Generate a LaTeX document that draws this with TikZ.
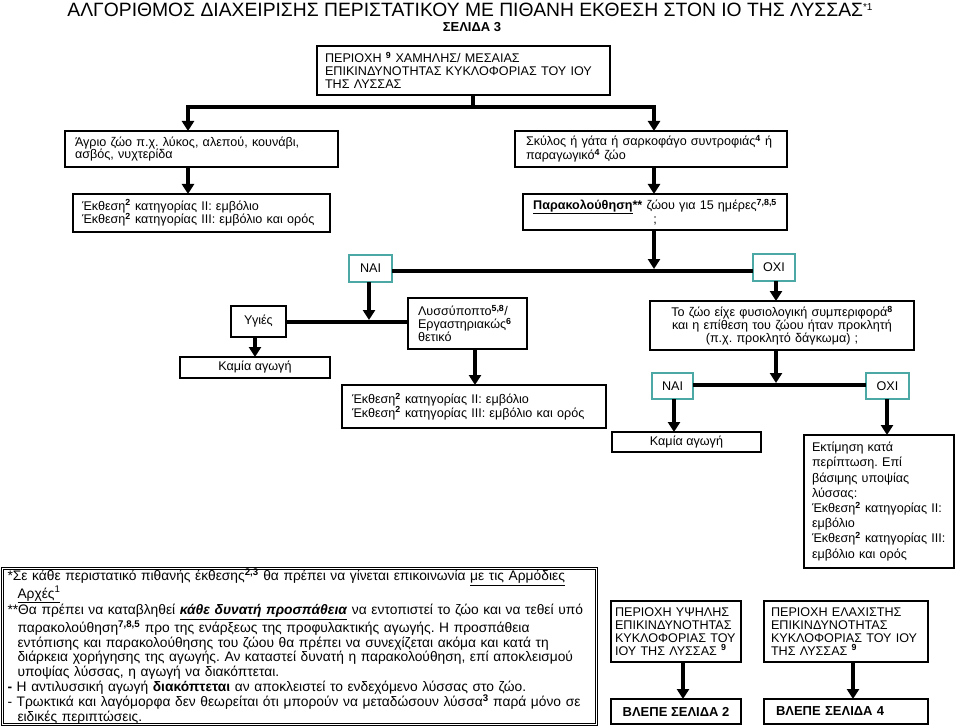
\documentclass[tikz,border=0pt]{standalone}
\usepackage{fontspec}
\setmainfont{Liberation Sans}
\usetikzlibrary{arrows.meta}
\definecolor{answerteal}{RGB}{75,168,164}
\newcommand{\sps}[1]{\textsuperscript{\textbf{#1}}}
\frenchspacing
\setlength{\lineskiplimit}{-20pt}
\setlength{\lineskip}{0pt}
\begin{document}
\begin{tikzpicture}[x=1pt, y=-1pt,
    box/.style={draw, line width=1.3pt, outer sep=0pt, anchor=north west, inner ysep=0pt, font=\fontsize{12.6}{12.8}\selectfont},
    leftbox/.style={box, align=left},
    midbox/.style={box, align=center},
    answer/.style={draw=answerteal, line width=1.5pt, outer sep=0pt, anchor=north west, inner sep=0pt, font=\fontsize{12.6}{13}\selectfont},
    notebox/.style={draw, double, double distance=1.5pt, line width=0.9pt, outer sep=0pt, anchor=north west, inner xsep=5pt, inner ysep=0pt, align=left, font=\fontsize{13.8}{14.7}\selectfont},
    link/.style={line width=4pt},
    arrow/.style={line width=4pt, -{Triangle[width=12pt,length=10pt]}}]
    \useasboundingbox (0,0) rectangle (960,727);
    \node[anchor=base, font=\fontsize{19.3}{22}\selectfont] (title) at (470,16.5) {ΑΛΓΟΡΙΘΜΟΣ ΔΙΑΧΕΙΡΙΣΗΣ ΠΕΡΙΣΤΑΤΙΚΟΥ ΜΕ ΠΙΘΑΝΗ ΕΚΘΕΣΗ ΣΤΟΝ ΙΟ ΤΗΣ ΛΥΣΣΑΣ\raisebox{5.5pt}{\fontsize{10}{10}\selectfont *1}};
    \node[anchor=base, font=\bfseries\fontsize{13}{15}\selectfont] (page) at (472,32) {ΣΕΛΙΔΑ 3};
    \node[leftbox, inner xsep=8pt, text width=277pt, minimum height=49pt] (area) at (317,46) {ΠΕΡΙΟΧΗ \sps{9} ΧΑΜΗΛΗΣ/ ΜΕΣΑΙΑΣ\\ ΕΠΙΚΙΝΔΥΝΟΤΗΤΑΣ ΚΥΚΛΟΦΟΡΙΑΣ ΤΟΥ ΙΟΥ\\ ΤΗΣ ΛΥΣΣΑΣ};
    \node[leftbox, inner xsep=10pt, text width=253pt, minimum height=36pt] (wild) at (65,131) {Άγριο ζώο π.χ. λύκος, αλεπού, κουνάβι,\\ ασβός, νυχτερίδα};
    \node[leftbox, inner xsep=11pt, text width=250pt, minimum height=36pt] (pet) at (515,131) {Σκύλος ή γάτα ή σαρκοφάγο συντροφιάς\sps{4} ή\\ παραγωγικό\sps{4} ζώο};
    \node[leftbox, inner xsep=9pt, text width=239pt, minimum height=38pt, font=\fontsize{12.6}{13.2}\selectfont] (vacc) at (73,194) {Έκθεση\sps{2} κατηγορίας II: εμβόλιο\\ Έκθεση\sps{2} κατηγορίας III: εμβόλιο και ορός};
    \node[midbox, inner xsep=7pt, text width=250pt, minimum height=36pt, font=\fontsize{12.6}{14}\selectfont] (watch) at (523,194) {\underline{\textbf{Παρακολούθηση}}\textbf{**} ζώου για 15 ημέρες\sps{7,8,5}\\ ;};
    \node[answer, minimum width=43pt, minimum height=27pt] (yes1) at (349,255) {ΝΑΙ};
    \node[answer, minimum width=42pt, minimum height=27pt] (no1) at (753,254) {ΟΧΙ};
    \node[midbox, inner xsep=0pt, minimum width=55pt, minimum height=31pt] (healthy) at (231,306) {Υγιές};
    \node[leftbox, inner xsep=10pt, text width=99pt, minimum height=51pt, font=\fontsize{12.6}{13}\selectfont] (suspect) at (408,298) {Λυσσύποπτο\sps{5,8}/\\ Εργαστηριακώς\sps{6}\\ θετικό};
    \node[midbox, inner xsep=0pt, minimum width=150pt, minimum height=21pt] (idle1) at (180,357) {Καμία αγωγή};
    \node[leftbox, inner xsep=10pt, text width=244pt, minimum height=43pt, font=\fontsize{12.6}{13.8}\selectfont] (vacc2) at (342,385) {Έκθεση\sps{2} κατηγορίας II: εμβόλιο\\ Έκθεση\sps{2} κατηγορίας III: εμβόλιο και ορός};
    \node[midbox, inner xsep=7pt, text width=250pt, minimum height=49pt] (behave) at (650,301) {Το ζώο είχε φυσιολογική συμπεριφορά\sps{8}\\ και η επίθεση του ζώου ήταν προκλητή\\ (π.χ. προκλητό δάγκωμα) ;};
    \node[answer, minimum width=41pt, minimum height=26pt] (yes2) at (652,373) {ΝΑΙ};
    \node[answer, minimum width=43pt, minimum height=26pt] (no2) at (866,373) {ΟΧΙ};
    \node[midbox, inner xsep=0pt, minimum width=149pt, minimum height=20pt] (idle2) at (612,432) {Καμία αγωγή};
    \node[leftbox, inner xsep=8pt, text width=134pt, minimum height=133pt, font=\fontsize{12.6}{15.2}\selectfont] (assess) at (804,435) {Εκτίμηση κατά\\ περίπτωση. Επί\\ βάσιμης υποψίας\\ λύσσας:\\ Έκθεση\sps{2} κατηγορίας II:\\ εμβόλιο\\ Έκθεση\sps{2} κατηγορίας III:\\ εμβόλιο και ορός};
    \node[notebox, text width=584pt, minimum height=153pt] (notes) at (2.5,568.5) {*Σε κάθε περιστατικό πιθανής έκθεσης\sps{2,3} θα πρέπει να γίνεται επικοινωνία \underline{με τις Αρμόδιες}\\
        \hspace*{10pt}\underline{Αρχές\textsuperscript{1}}\\
        {}**Θα πρέπει να καταβληθεί \underline{\textbf{\textit{κάθε δυνατή προσπάθεια}}} να εντοπιστεί το ζώο και να τεθεί υπό\\
        \hspace*{10pt}παρακολούθηση\sps{7,8,5} προ της ενάρξεως της προφυλακτικής αγωγής. Η προσπάθεια\\
        \hspace*{10pt}εντόπισης και παρακολούθησης του ζώου θα πρέπει να συνεχίζεται ακόμα και κατά τη\\
        \hspace*{10pt}διάρκεια χορήγησης της αγωγής. Αν καταστεί δυνατή η παρακολούθηση, επί αποκλεισμού\\
        \hspace*{10pt}υποψίας λύσσας, η αγωγή να διακόπτεται.\\
        \textbf{-} Η αντιλυσσική αγωγή \textbf{διακόπτεται} αν αποκλειστεί το ενδεχόμενο λύσσας στο ζώο.\\
        - Τρωκτικά και λαγόμορφα δεν θεωρείται ότι μπορούν να μεταδώσουν λύσσα\sps{3} παρά μόνο σε\\
        \hspace*{10pt}ειδικές περιπτώσεις.};
    \node[leftbox, inner xsep=4pt, text width=122pt, minimum height=61pt] (high) at (611,601) {ΠΕΡΙΟΧΗ ΥΨΗΛΗΣ\\ ΕΠΙΚΙΝΔΥΝΟΤΗΤΑΣ\\ ΚΥΚΛΟΦΟΡΙΑΣ ΤΟΥ\\ ΙΟΥ ΤΗΣ ΛΥΣΣΑΣ \sps{9}};
    \node[leftbox, inner xsep=7pt, text width=150pt, minimum height=61pt] (low) at (764,601) {ΠΕΡΙΟΧΗ ΕΛΑΧΙΣΤΗΣ\\ ΕΠΙΚΙΝΔΥΝΟΤΗΤΑΣ\\ ΚΥΚΛΟΦΟΡΙΑΣ ΤΟΥ ΙΟΥ\\ ΤΗΣ ΛΥΣΣΑΣ \sps{9}};
    \node[midbox, inner xsep=0pt, minimum width=130pt, minimum height=25pt, font=\bfseries\fontsize{13}{15}\selectfont] (see2) at (611,699) {ΒΛΕΠΕ ΣΕΛΙΔΑ 2};
    \node[leftbox, inner xsep=12pt, text width=140pt, minimum height=25pt, font=\bfseries\fontsize{13}{15}\selectfont] (see4) at (764,699) {ΒΛΕΠΕ ΣΕΛΙΔΑ 4};
    \coordinate (split) at (473,107);
    \coordinate (wildin) at (188,107);
    \coordinate (petin) at (654,107);
    \coordinate (fork1) at (654,271);
    \coordinate (fork2) at (369,322);
    \coordinate (fork3) at (776,385);
    \coordinate (healthyout) at (255,0);
    \coordinate (suspectout) at (475,0);
    \coordinate (yes2out) at (674,0);
    \coordinate (no2out) at (887,0);
    \coordinate (highout) at (683,0);
    \coordinate (lowout) at (853,0);
    \draw[link] (area.south -| split) -- (split);
    \draw[arrow] (split) -| (wild.north -| wildin);
    \draw[arrow] (split) -| (pet.north -| petin);
    \draw[arrow] (wild.south -| wildin) -- (vacc.north -| wildin);
    \draw[arrow] (pet.south -| petin) -- (watch.north -| petin);
    \draw[arrow] (watch.south -| fork1) -- ([yshift=2pt]fork1);
    \draw[link] (yes1.east |- fork1) -- (no1.west |- fork1);
    \draw[arrow] (yes1.south -| fork2) -- ([yshift=2pt]fork2);
    \draw[link] (healthy.east |- fork2) -- (suspect.west |- fork2);
    \draw[arrow] (healthy.south -| healthyout) -- (idle1.north -| healthyout);
    \draw[arrow] (suspect.south -| suspectout) -- (vacc2.north -| suspectout);
    \draw[arrow] (no1.south -| fork3) -- (behave.north -| fork3);
    \draw[arrow] (behave.south -| fork3) -- ([yshift=2pt]fork3);
    \draw[link] (yes2.east |- fork3) -- (no2.west |- fork3);
    \draw[arrow] (yes2.south -| yes2out) -- (idle2.north -| yes2out);
    \draw[arrow] (no2.south -| no2out) -- (assess.north -| no2out);
    \draw[arrow] (high.south -| highout) -- (see2.north -| highout);
    \draw[arrow] (low.south -| lowout) -- (see4.north -| lowout);
\end{tikzpicture}
\end{document}
